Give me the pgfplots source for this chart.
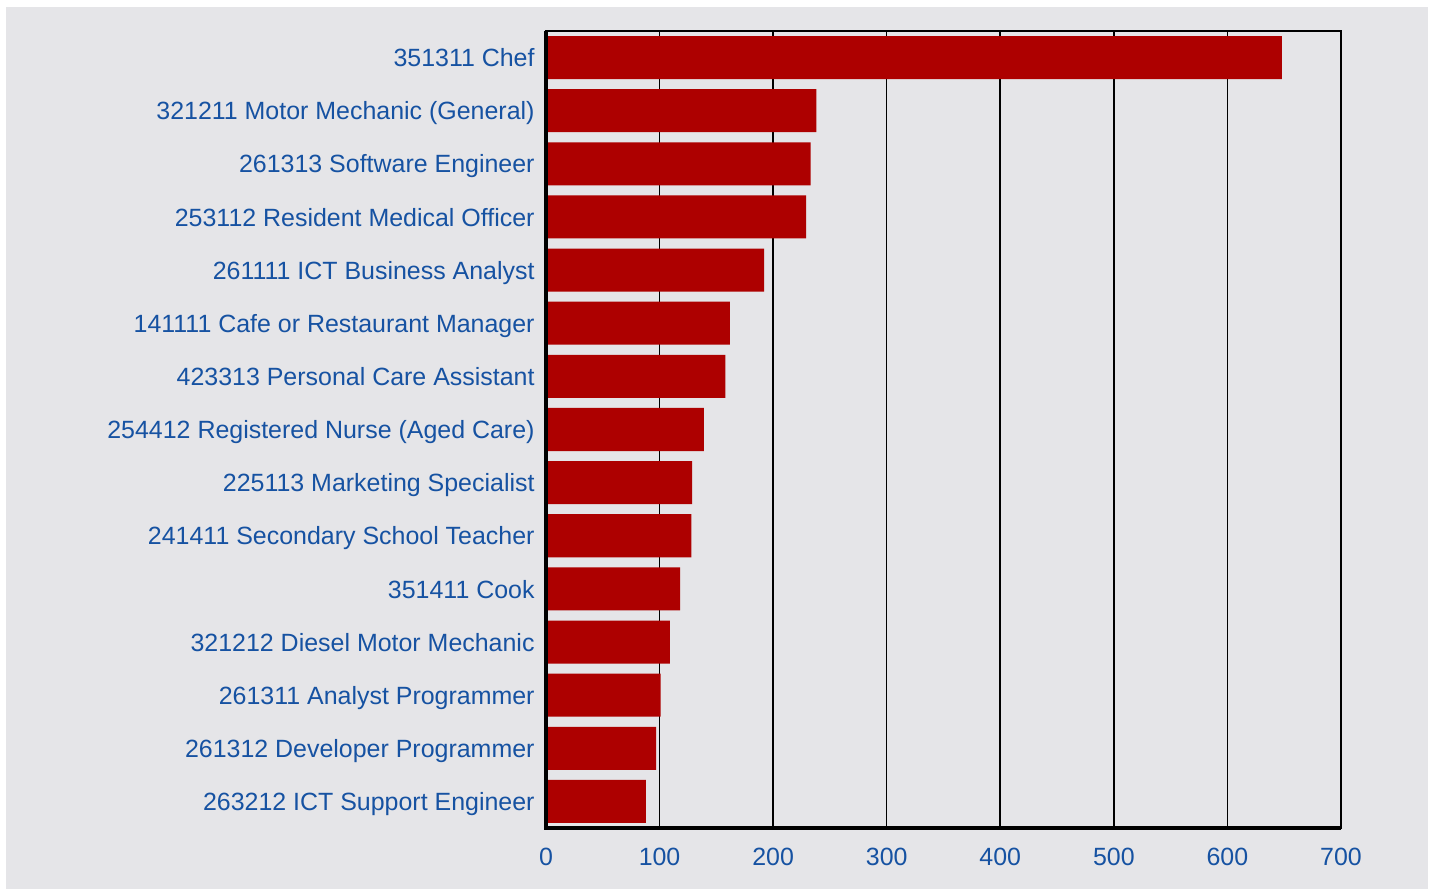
\documentclass[border=0pt]{standalone}
\usepackage{pgfplots}
\pgfplotsset{compat=1.18}
\usepackage{fontspec}
\setmainfont{Liberation Sans}
\definecolor{bg}{RGB}{229,229,232}
\definecolor{barred}{RGB}{173,0,0}
\definecolor{lblue}{RGB}{22,82,162}
\begin{document}
\begin{tikzpicture}[x=1cm,y=1cm]
\fill[white] (0,0) rectangle (14.31,8.89);
\useasboundingbox (0,0) rectangle (14.31,8.89);
\fill[bg] (0.06,0) rectangle (14.28,8.82);
\begin{axis}[
  at={(5.46cm,0.61cm)}, anchor=south west,
  scale only axis, width=7.95cm, height=7.97cm,
  xmin=0, xmax=700, ymin=-0.5, ymax=14.5,
  xtick={0,100,...,700},
  ytick={0,...,14},
  yticklabels={263212 ICT Support Engineer,261312 Developer Programmer,261311 Analyst Programmer,321212 Diesel Motor Mechanic,351411 Cook,241411 Secondary School Teacher,225113 Marketing Specialist,254412 Registered Nurse (Aged Care),423313 Personal Care Assistant,141111 Cafe or Restaurant Manager,261111 ICT Business Analyst,253112 Resident Medical Officer,261313 Software Engineer,321211 Motor Mechanic (General),351311 Chef},
  major tick length=0pt,
  tick label style={font=\fontsize{7.1}{9}\selectfont, text=lblue},
  /pgf/number format/assume math mode=true,
  xticklabel style={yshift=-0.08cm},
  yticklabel style={xshift=0.01cm, yshift=0.02cm, text height=1.55ex, text depth=0.35ex},
  xmajorgrids, major grid style={black, line width=0.45pt},
  axis line style={black, line width=0.6pt},
  axis background/.style={fill=bg},
  xbar, bar width=0.81, bar shift=0pt,
  after end axis/.code={
    \draw[black, line width=1pt] (rel axis cs:0,1) -- (rel axis cs:0,0) -- (rel axis cs:1,0);
  },
]
\addplot[fill=barred, draw=none] coordinates {
(88,0) (97,1) (101,2) (109,3) (118,4) (128,5) (128.6,6) (139,7) (158,8) (162,9) (192,10) (229,11) (233,12) (238,13) (648,14)
};
\end{axis}
\end{tikzpicture}
\end{document}
